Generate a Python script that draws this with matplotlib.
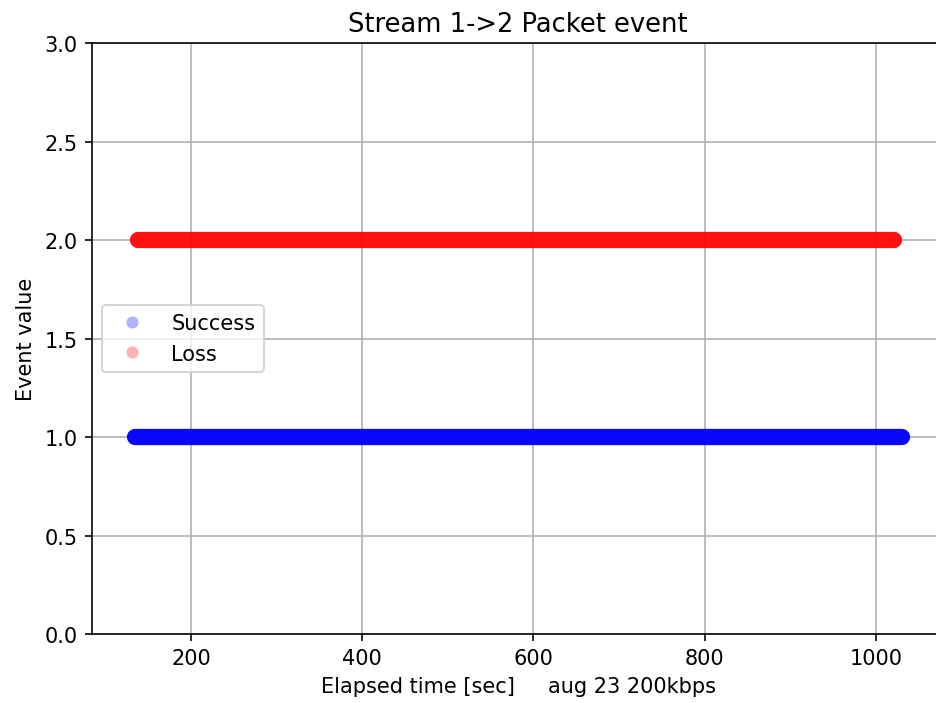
import matplotlib
matplotlib.use("Agg")
import matplotlib.pyplot as plt
from matplotlib.lines import Line2D

# event runs: (start, end) in seconds
success_runs = [(135, 1031)]
loss_runs = [(138, 1021)]
success_value = 1
loss_value = 2

title = "Stream 1->2 Packet event"
xlabel = "Elapsed time [sec]     aug 23 200kbps"
ylabel = "Event value"

plt.rcParams["font.size"] = 10.3

fig = plt.figure(figsize=(6.4, 4.8087), dpi=146.4)
ax = fig.add_axes([0.0979, 0.098, 0.910, 0.8395])

# dense overlapping markers show up as a solid band, drawn as round-capped lines
for start, end in success_runs:
    ax.plot([start, end], [success_value, success_value], color="blue",
            lw=8, solid_capstyle="round", alpha=0.97)
for start, end in loss_runs:
    ax.plot([start, end], [loss_value, loss_value], color="red",
            lw=8, solid_capstyle="round", alpha=0.93)

handles = [
    Line2D([], [], marker="o", ls="none", color="blue", alpha=0.3,
           markersize=6, markeredgewidth=0),
    Line2D([], [], marker="o", ls="none", color="red", alpha=0.3,
           markersize=6, markeredgewidth=0),
]
ax.legend(handles, ["Success", "Loss"], loc="center left", handletextpad=0.9)

ax.set_xlim(84, 1080)
ax.set_ylim(0, 3)
ax.set_xticks([200, 400, 600, 800, 1000])
ax.grid(True)
ax.set_title(title, fontsize=12.7)
ax.set_xlabel(xlabel)
ax.set_ylabel(ylabel)

fig.savefig("out.png", dpi=146.4)
plt.close(fig)
